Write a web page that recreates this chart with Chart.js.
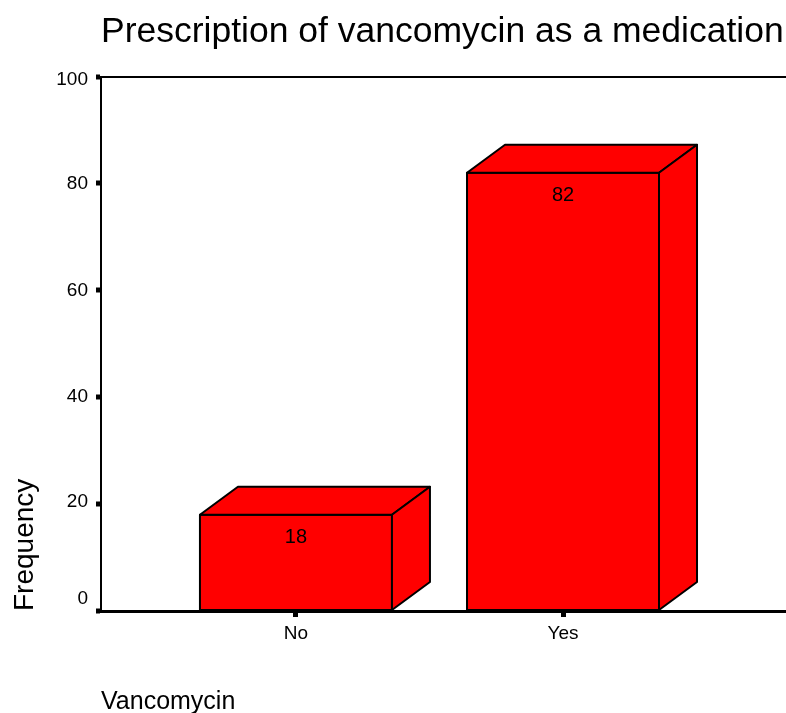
<!DOCTYPE html>
<html>
<head>
<meta charset="utf-8">
<title>Prescription of vancomycin as a medication</title>
<script src="https://cdn.jsdelivr.net/npm/chart.js@4"></script>
<style>
  html, body { margin: 0; padding: 0; background: #fff; }
  #wrap { width: 786px; height: 713px; }
</style>
</head>
<body>
<div id="wrap"><canvas id="barChart" width="786" height="713"></canvas></div>
<script>
'use strict';

var categories = ['No', 'Yes'];
var frequency = [18, 82];
var yTicks = [0, 20, 40, 60, 80, 100];

var fontName = '"Liberation Sans", Arial, sans-serif';
var depthX = 38, depthY = 28;
// the original moves some y labels off their tick so they stay inside the frame
var yLabelNudge = { 0: -12, 20: -2, 100: 3 };

// outline, side and top faces of the boxes, plus the count inside each one
var boxPlugin = {
  id: 'box',
  beforeDraw: function (chart) {
    chart.scales.y.getLabelItems().forEach(function (item, i) {
      var nudge = yLabelNudge[yTicks[i]] || 0;
      if (!item.moved) {
        item.options.translation[1] += nudge;
        item.moved = true;
      }
    });
  },
  afterDatasetsDraw: function (chart) {
    var ctx = chart.ctx;
    ctx.save();
    chart.getDatasetMeta(0).data.forEach(function (bar, i) {
      var left = bar.x - bar.width / 2, right = bar.x + bar.width / 2, top = bar.y;
      ctx.fillStyle = '#ff0000';
      ctx.strokeStyle = '#000';
      ctx.lineWidth = 2;
      ctx.lineJoin = 'round';

      ctx.strokeRect(left, top, right - left, bar.base - top);

      ctx.beginPath();
      ctx.moveTo(left, top);
      ctx.lineTo(left + depthX, top - depthY);
      ctx.lineTo(right + depthX, top - depthY);
      ctx.lineTo(right, top);
      ctx.closePath();
      ctx.fill();
      ctx.stroke();

      ctx.beginPath();
      ctx.moveTo(right, top);
      ctx.lineTo(right + depthX, top - depthY);
      ctx.lineTo(right + depthX, bar.base - depthY);
      ctx.lineTo(right, bar.base);
      ctx.closePath();
      ctx.fill();
      ctx.stroke();

      ctx.fillStyle = '#000';
      ctx.font = '20px ' + fontName;
      ctx.textAlign = 'center';
      ctx.textBaseline = 'middle';
      ctx.fillText(String(frequency[i]), bar.x, bar.y + 23);
    });
    ctx.restore();
  }
};

new Chart(document.getElementById('barChart'), {
  type: 'bar',
  data: {
    datasets: [{
      data: frequency.map(function (v, i) { return { x: i, y: v }; }),
      backgroundColor: '#ff0000',
      borderWidth: 0,
      barThickness: 192
    }]
  },
  plugins: [boxPlugin],
  options: {
    responsive: false,
    animation: false,
    layout: { padding: 0 },
    plugins: {
      legend: { display: false },
      tooltip: { enabled: false },
      title: {
        display: true,
        text: 'Prescription of vancomycin as a medication',
        align: 'start',
        fullSize: false,
        color: '#000',
        font: { family: fontName, size: 35.5, weight: 'normal' },
        padding: { top: 11, bottom: 23 }
      }
    },
    scales: {
      x: {
        type: 'linear',
        offset: false,
        min: -0.73,
        max: 1.835,
        afterBuildTicks: function (axis) {
          axis.ticks = categories.map(function (c, i) { return { value: i }; });
        },
        afterFit: function (axis) { axis.height = 102; },
        border: { color: '#000', width: 3 },
        grid: { offset: false, drawOnChartArea: false, tickLength: 6, tickWidth: 5, tickColor: '#000' },
        ticks: {
          color: '#000',
          padding: 5,
          maxRotation: 0,
          font: { family: fontName, size: 19 },
          callback: function (value) { return categories[value]; }
        },
        title: {
          display: true,
          text: 'Vancomycin',
          align: 'start',
          color: '#000',
          font: { family: fontName, size: 25 },
          padding: { top: 0, bottom: -4 }
        }
      },
      y: {
        min: 0,
        max: 100,
        afterBuildTicks: function (axis) {
          axis.ticks = yTicks.map(function (v) { return { value: v }; });
        },
        afterFit: function (axis) { axis.width = 101; },
        border: { color: '#000', width: 2 },
        grid: {
          drawOnChartArea: true,
          lineWidth: 2,
          color: function (c) { return c.tick && c.tick.value === 100 ? '#000' : 'rgba(0,0,0,0)'; },
          tickLength: 5,
          tickWidth: 5,
          tickColor: '#000'
        },
        ticks: {
          color: '#000',
          padding: 8,
          font: { family: fontName, size: 19 }
        },
        title: {
          display: true,
          text: 'Frequency',
          align: 'start',
          color: '#000',
          font: { family: fontName, size: 28 },
          padding: { top: 8, bottom: 0 }
        }
      }
    }
  }
});
</script>
</body>
</html>
